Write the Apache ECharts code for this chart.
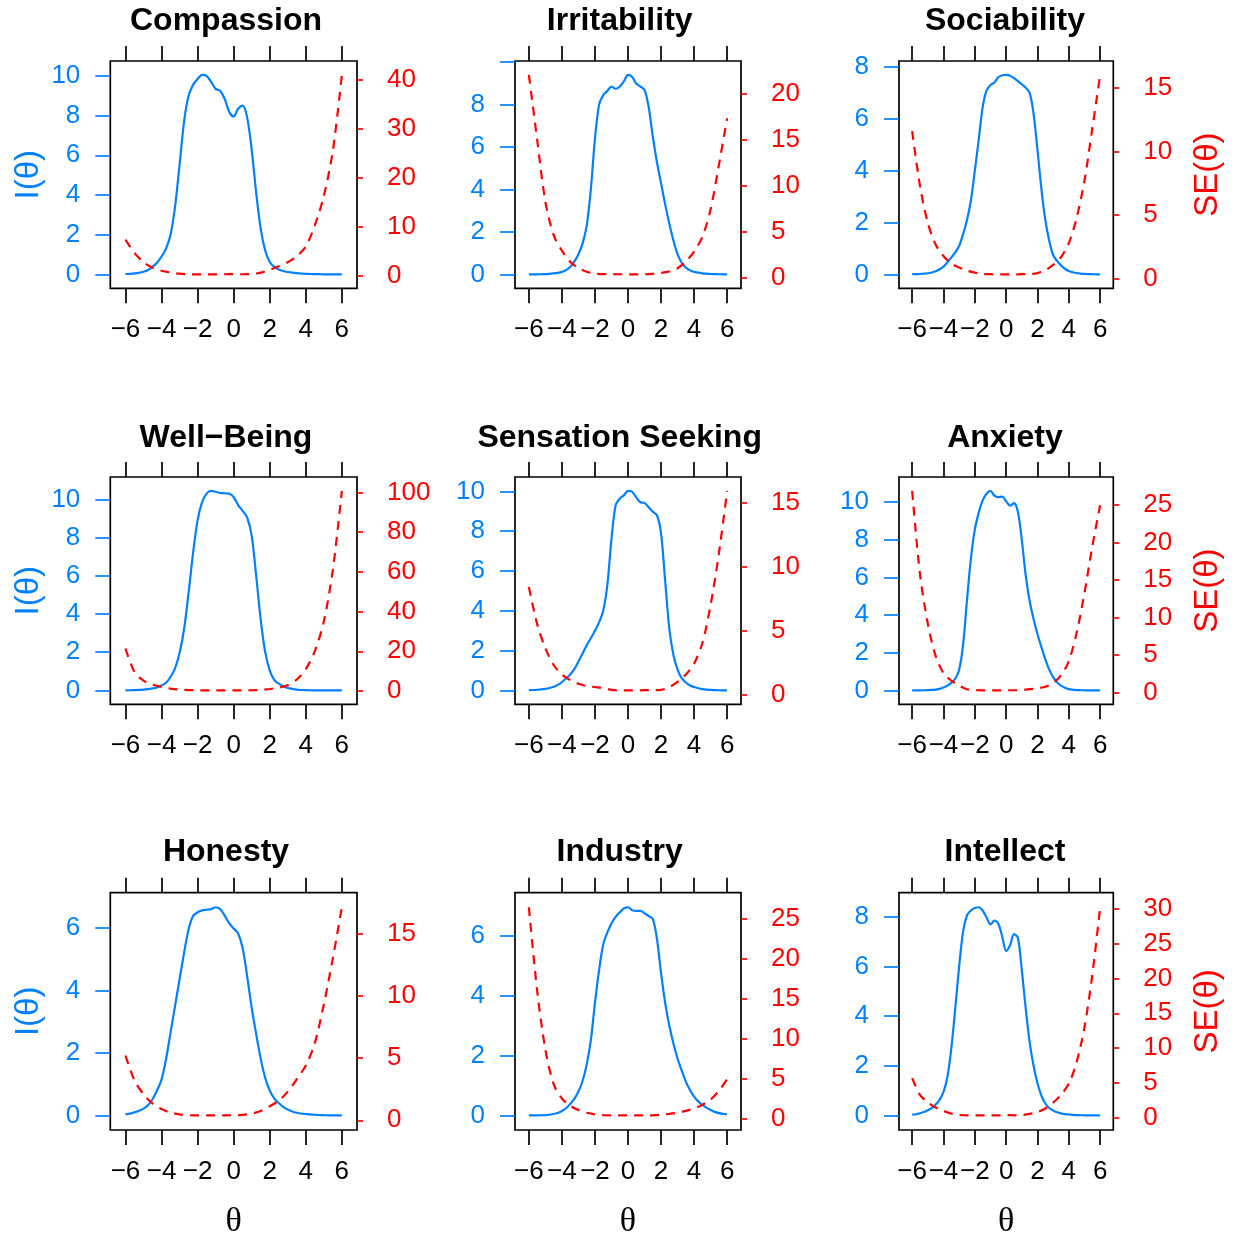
<!DOCTYPE html>
<html>
<head>
<meta charset="utf-8">
<title>Test information and standard error by scale</title>
<script src="https://cdn.jsdelivr.net/npm/echarts@6/dist/echarts.min.js"></script>
<style>
  html, body { margin: 0; padding: 0; background: #ffffff; overflow: hidden; }
  #chart { width: 1237px; height: 1237px; }
</style>
</head>
<body>
<div id="chart"></div>
<script>
// Theta grids: fine grid for information, coarse grid for standard error
const thetaGrid = [
  -6, -5.75, -5.5, -5.25, -5, -4.75, -4.5, -4.25, -4,
  -3.75, -3.5, -3.25, -3, -2.75, -2.5, -2.25, -2,
  -1.75, -1.5, -1.25, -1, -0.75, -0.5, -0.25, 0,
  0.25, 0.5, 0.75, 1, 1.25, 1.5, 1.75, 2,
  2.25, 2.5, 2.75, 3, 3.25, 3.5, 3.75, 4,
  4.25, 4.5, 4.75, 5, 5.25, 5.5, 5.75, 6
];
const thetaCoarse = [
  -6, -5.5, -5, -4.5, -4, -3.5, -3, -2.5, -2, -1.5, -1, -0.5, 0,
  0.5, 1, 1.5, 2, 2.5, 3, 3.5, 4, 4.5, 5, 5.5, 6
];
const thetaTicks = [-6, -4, -2, 0, 2, 4, 6];

const scaleNames = ['Compassion', 'Irritability', 'Sociability',
  'Well\u2212Being', 'Sensation Seeking', 'Anxiety',
  'Honesty', 'Industry', 'Intellect'];

// Test information I(theta) per scale (on thetaGrid)
const compassionInfo = [
  0.018, 0.028, 0.045, 0.075, 0.13, 0.22, 0.38, 0.58, 0.9,
  1.3, 2.0, 3.4, 5.5, 7.7, 9.0, 9.55, 9.85,
  10.05, 10.0, 9.7, 9.35, 9.25, 8.85, 8.2, 7.95,
  8.35, 8.5, 7.9, 6.3, 4.1, 2.3, 1.2, 0.62,
  0.38, 0.25, 0.17, 0.12, 0.085, 0.06, 0.04, 0.028,
  0.018, 0.01, 0.007, 0.004, 0.003, 0.002, 0.001, 0.0006
];
const irritabilityInfo = [
  0.002, 0.003, 0.005, 0.009, 0.016, 0.028, 0.05, 0.075, 0.12,
  0.2, 0.35, 0.6, 0.95, 1.45, 2.3, 4.0, 6.4,
  8.0, 8.45, 8.65, 8.85, 8.75, 8.85, 9.1, 9.4,
  9.3, 9.0, 8.85, 8.7, 7.9, 6.5, 5.3, 4.3,
  3.3, 2.4, 1.6, 0.95, 0.55, 0.32, 0.19, 0.12,
  0.08, 0.05, 0.032, 0.018, 0.011, 0.007, 0.005, 0.003
];
const sociabilityInfo = [
  0.007, 0.011, 0.018, 0.028, 0.045, 0.075, 0.12, 0.2, 0.3,
  0.47, 0.65, 0.85, 1.1, 1.55, 2.1, 2.85, 4.0,
  5.2, 6.45, 7.1, 7.3, 7.4, 7.6, 7.68, 7.69,
  7.66, 7.57, 7.45, 7.33, 7.2, 7.0, 6.2, 4.8,
  3.3, 2.1, 1.3, 0.75, 0.52, 0.35, 0.22, 0.13,
  0.085, 0.055, 0.035, 0.022, 0.014, 0.009, 0.006, 0.004
];
const wellBeingInfo = [
  0.002, 0.006, 0.011, 0.02, 0.035, 0.06, 0.1, 0.15, 0.25,
  0.4, 0.7, 1.15, 1.95, 3.2, 5.1, 7.2, 8.9,
  9.85, 10.3, 10.44, 10.4, 10.33, 10.32, 10.3, 10.12,
  9.7, 9.4, 9.05, 8.1, 6.0, 3.7, 2.0, 1.05,
  0.55, 0.35, 0.22, 0.13, 0.075, 0.035, 0.018, 0.009,
  0.005, 0.0025, 0.0015, 0.0008, 0.0005, 0.0003, 0.0002, 0.0001
];
const sensationInfo = [
  0.014, 0.02, 0.033, 0.05, 0.077, 0.12, 0.18, 0.28, 0.42,
  0.6, 0.8, 1.07, 1.45, 1.85, 2.27, 2.62, 3.0,
  3.42, 4.0, 5.3, 7.6, 9.3, 9.63, 9.8, 10.02,
  9.98, 9.7, 9.45, 9.42, 9.2, 8.98, 8.8, 7.9,
  5.5, 3.1, 1.78, 1.05, 0.62, 0.4, 0.25, 0.17,
  0.11, 0.065, 0.04, 0.024, 0.015, 0.009, 0.006, 0.004
];
const anxietyInfo = [
  0.0014, 0.002, 0.004, 0.0065, 0.012, 0.022, 0.042, 0.08, 0.15,
  0.25, 0.4, 0.62, 1.1, 2.4, 4.8, 7.0, 8.55,
  9.45, 10.1, 10.45, 10.6, 10.35, 10.27, 10.3, 10.05,
  9.82, 9.95, 9.5, 8.0, 6.1, 4.75, 3.8, 3.0,
  2.3, 1.65, 1.1, 0.7, 0.43, 0.25, 0.14, 0.065,
  0.035, 0.018, 0.01, 0.006, 0.004, 0.0027, 0.002, 0.0016
];
const honestyInfo = [
  0.037, 0.06, 0.1, 0.15, 0.22, 0.33, 0.52, 0.8, 1.15,
  1.8, 2.65, 3.5, 4.35, 5.2, 5.95, 6.38, 6.5,
  6.56, 6.58, 6.6, 6.66, 6.6, 6.4, 6.15, 5.98,
  5.82, 5.35, 4.45, 3.45, 2.6, 1.82, 1.2, 0.8,
  0.55, 0.4, 0.28, 0.19, 0.13, 0.09, 0.065, 0.05,
  0.035, 0.025, 0.017, 0.011, 0.008, 0.006, 0.0045, 0.0034
];
const industryInfo = [
  0.0015, 0.0025, 0.004, 0.007, 0.013, 0.025, 0.05, 0.08, 0.15,
  0.24, 0.38, 0.55, 0.8, 1.15, 1.7, 2.5, 3.75,
  4.85, 5.7, 6.1, 6.4, 6.62, 6.77, 6.9, 6.94,
  6.84, 6.82, 6.82, 6.74, 6.65, 6.55, 5.9, 4.75,
  3.75, 3.0, 2.4, 1.9, 1.5, 1.13, 0.85, 0.63,
  0.47, 0.35, 0.26, 0.18, 0.12, 0.08, 0.055, 0.04
];
const intellectInfo = [
  0.03, 0.05, 0.09, 0.14, 0.21, 0.3, 0.44, 0.63, 0.95,
  1.55, 2.7, 4.3, 6.0, 7.4, 8.05, 8.25, 8.35,
  8.38, 8.25, 7.97, 7.69, 7.84, 7.72, 7.2, 6.62,
  6.85, 7.3, 7.15, 5.85, 4.3, 2.95, 2.0, 1.3,
  0.8, 0.48, 0.3, 0.2, 0.13, 0.085, 0.055, 0.04,
  0.027, 0.016, 0.01, 0.006, 0.004, 0.0024, 0.0016, 0.0011
];

// Standard error SE(theta) per scale (on thetaCoarse)
const compassionSE   = [7.4, 4.7, 2.8, 1.65, 1.05, 0.7, 0.45, 0.34, 0.32, 0.32, 0.33, 0.34, 0.35, 0.34, 0.4, 0.66, 1.25, 1.95, 2.8, 4.0, 6.0, 10.3, 16.3, 25.5, 41.0];
const irritabilitySE = [22.0, 15.0, 8.2, 4.6, 2.9, 1.7, 1.0, 0.62, 0.4, 0.35, 0.34, 0.34, 0.33, 0.33, 0.34, 0.39, 0.48, 0.65, 1.0, 1.7, 2.8, 4.4, 7.4, 12.2, 17.3];
const sociabilitySE  = [11.6, 7.3, 4.4, 2.7, 1.8, 1.2, 0.9, 0.65, 0.5, 0.39, 0.37, 0.36, 0.36, 0.36, 0.37, 0.38, 0.46, 0.68, 1.1, 1.7, 2.8, 4.8, 7.7, 11.8, 16.0];
const wellBeingSE    = [21.4, 9.6, 5.2, 3.2, 2.0, 1.2, 0.72, 0.45, 0.34, 0.31, 0.31, 0.31, 0.31, 0.33, 0.35, 0.52, 1.0, 1.7, 2.9, 5.8, 11.0, 20.0, 35.0, 61.0, 100.8];
const sensationSE    = [8.4, 5.5, 3.6, 2.3, 1.55, 1.12, 0.83, 0.66, 0.58, 0.5, 0.36, 0.32, 0.32, 0.32, 0.33, 0.33, 0.36, 0.57, 0.98, 1.55, 2.4, 4.0, 7.0, 11.0, 15.9];
const anxietySE      = [26.9, 15.8, 9.2, 4.9, 2.6, 1.6, 0.95, 0.46, 0.34, 0.31, 0.31, 0.31, 0.32, 0.32, 0.35, 0.46, 0.58, 0.78, 1.3, 2.3, 4.2, 8.0, 13.3, 19.5, 25.0];
const honestySE      = [5.2, 3.2, 2.1, 1.35, 0.9, 0.62, 0.48, 0.41, 0.39, 0.39, 0.39, 0.39, 0.41, 0.43, 0.54, 0.74, 1.12, 1.58, 2.3, 3.3, 4.4, 6.2, 9.3, 13.0, 17.1];
const industrySE     = [26.4, 16.0, 8.6, 4.3, 2.5, 1.6, 1.05, 0.72, 0.52, 0.42, 0.39, 0.38, 0.38, 0.38, 0.38, 0.39, 0.46, 0.58, 0.73, 0.95, 1.25, 1.7, 2.35, 3.45, 4.9];
const intellectSE    = [5.7, 3.3, 2.2, 1.5, 1.0, 0.62, 0.42, 0.35, 0.35, 0.35, 0.36, 0.36, 0.39, 0.37, 0.41, 0.58, 0.85, 1.35, 2.2, 3.3, 4.9, 8.0, 13.0, 20.5, 30.2];

// Tick values for the information (left) and SE (right) axes
const infoTicks = [
  [0, 2, 4, 6, 8, 10], [0, 2, 4, 6, 8, 10], [0, 2, 4, 6, 8],
  [0, 2, 4, 6, 8, 10], [0, 2, 4, 6, 8, 10], [0, 2, 4, 6, 8, 10],
  [0, 2, 4, 6], [0, 2, 4, 6], [0, 2, 4, 6, 8]
];
const infoTickLabels = [
  [0, 2, 4, 6, 8, 10], [0, 2, 4, 6, 8], [0, 2, 4, 6, 8],
  [0, 2, 4, 6, 8, 10], [0, 2, 4, 6, 8, 10], [0, 2, 4, 6, 8, 10],
  [0, 2, 4, 6], [0, 2, 4, 6], [0, 2, 4, 6, 8]
];
const seTicks = [
  [0, 10, 20, 30, 40], [0, 5, 10, 15, 20], [0, 5, 10, 15],
  [0, 20, 40, 60, 80, 100], [0, 5, 10, 15], [0, 5, 10, 15, 20, 25],
  [0, 5, 10, 15], [0, 5, 10, 15, 20, 25], [0, 5, 10, 15, 20, 25, 30]
];

const infoSeries = [compassionInfo, irritabilityInfo, sociabilityInfo,
  wellBeingInfo, sensationInfo, anxietyInfo, honestyInfo, industryInfo, intellectInfo];
const seSeries = [compassionSE, irritabilitySE, sociabilitySE,
  wellBeingSE, sensationSE, anxietySE, honestySE, industrySE, intellectSE];

// ---- layout (pixels) ----
const colLeft = [110.3, 515, 899];
const colWidth = [246.7, 226, 214.3];
const rowTop = [61, 477, 892.7];
const rowHeight = [227.3, 227.3, 237.3];
const titleX = [226, 619.7, 1005];
const titleY = [21.5, 438, 852.5];

const BLUE = '#0080ff';
const RED = '#ff0000';
const SANS = '"Liberation Sans", Arial, Helvetica, sans-serif';
const SERIF = '"Liberation Serif", "Times New Roman", serif';
const TICK_FONT = 26;
const TITLE_FONT = 32;
const LABEL_FONT = 33;
const PAD = 0.07;

function padRange(values) {
  const lo = Math.min.apply(null, values);
  const hi = Math.max.apply(null, values);
  const d = hi - lo;
  return [lo - PAD * d, hi + PAD * d];
}
function fmtMinus(v) {
  return v < 0 ? '\u2212' + Math.abs(v) : String(v);
}

const grid = [], xAxis = [], yAxis = [], series = [], graphic = [];
const xRange = padRange([thetaTicks[0], thetaTicks[thetaTicks.length - 1]]);

scaleNames.forEach(function (name, i) {
  const r = Math.floor(i / 3), c = i % 3;

  grid.push({
    left: colLeft[c], top: rowTop[r], width: colWidth[c], height: rowHeight[r],
    show: true, borderColor: '#000', borderWidth: 1.7,
    backgroundColor: 'transparent', containLabel: false,
    outerBoundsMode: 'none'
  });

  // bottom theta axis with labels
  xAxis.push({
    type: 'value', gridIndex: i, position: 'bottom',
    min: xRange[0], max: xRange[1],
    axisLine: { show: false, onZero: false },
    splitLine: { show: false },
    axisTick: { show: true, inside: false, length: 15, customValues: thetaTicks,
      lineStyle: { color: '#000', width: 1.7 } },
    axisLabel: { show: true, customValues: thetaTicks, margin: 29,
      color: '#000', fontSize: TICK_FONT, fontFamily: SANS, formatter: fmtMinus },
    name: r === 2 ? '\u03b8' : '',
    nameLocation: 'middle', nameGap: 75,
    nameTextStyle: { color: '#000', fontSize: 34, fontFamily: SERIF }
  });
  // top theta axis: ticks only
  xAxis.push({
    type: 'value', gridIndex: i, position: 'top',
    min: xRange[0], max: xRange[1],
    axisLine: { show: false, onZero: false },
    splitLine: { show: false },
    axisTick: { show: true, inside: false, length: 15, customValues: thetaTicks,
      lineStyle: { color: '#000', width: 1.7 } },
    axisLabel: { show: false }
  });

  const iRange = padRange(infoSeries[i]);
  yAxis.push({
    type: 'value', gridIndex: i, position: 'left',
    min: iRange[0], max: iRange[1],
    axisLine: { show: false, onZero: false },
    splitLine: { show: false },
    axisTick: { show: true, inside: false, length: 15, customValues: infoTicks[i],
      lineStyle: { color: BLUE, width: 1.7 } },
    axisLabel: { show: true, customValues: infoTickLabels[i], margin: 30,
      color: BLUE, fontSize: TICK_FONT, fontFamily: SANS },
    name: c === 0 ? 'I(\u03b8)' : '',
    nameLocation: 'middle', nameRotate: 90, nameGap: 65,
    nameTextStyle: { color: BLUE, fontSize: LABEL_FONT, fontFamily: SANS }
  });

  const sRange = padRange(seSeries[i]);
  yAxis.push({
    type: 'value', gridIndex: i, position: 'right',
    min: sRange[0], max: sRange[1],
    axisLine: { show: false, onZero: false },
    splitLine: { show: false },
    axisTick: { show: true, inside: false, length: 6, customValues: seTicks[i],
      lineStyle: { color: RED, width: 1.7 } },
    axisLabel: { show: true, customValues: seTicks[i], margin: 30,
      color: RED, fontSize: TICK_FONT, fontFamily: SANS },
    name: c === 2 ? 'SE(\u03b8)' : '',
    nameLocation: 'middle', nameRotate: 90, nameGap: 78,
    nameTextStyle: { color: RED, fontSize: LABEL_FONT, fontFamily: SANS }
  });

  series.push({
    name: name + ' I', type: 'line',
    xAxisIndex: 2 * i, yAxisIndex: 2 * i,
    data: thetaGrid.map(function (t, k) { return [t, infoSeries[i][k]]; }),
    smooth: 0.3, showSymbol: false, symbol: 'none',
    lineStyle: { color: BLUE, width: 2.2 }, z: 3
  });
  series.push({
    name: name + ' SE', type: 'line',
    xAxisIndex: 2 * i, yAxisIndex: 2 * i + 1,
    data: thetaCoarse.map(function (t, k) { return [t, seSeries[i][k]]; }),
    smooth: 0.3, showSymbol: false, symbol: 'none',
    lineStyle: { color: RED, width: 2.2, type: [9, 7] }, z: 3
  });

  graphic.push({
    type: 'text', x: titleX[c], y: titleY[r],
    style: { text: name, fill: '#000', fontSize: TITLE_FONT, fontWeight: 'bold',
      fontFamily: SANS, align: 'center', verticalAlign: 'middle' }
  });
});

const chart = echarts.init(document.getElementById('chart'), null, { renderer: 'canvas' });
chart.setOption({
  animation: false,
  backgroundColor: '#ffffff',
  grid: grid, xAxis: xAxis, yAxis: yAxis, series: series, graphic: graphic
});
</script>
</body>
</html>
